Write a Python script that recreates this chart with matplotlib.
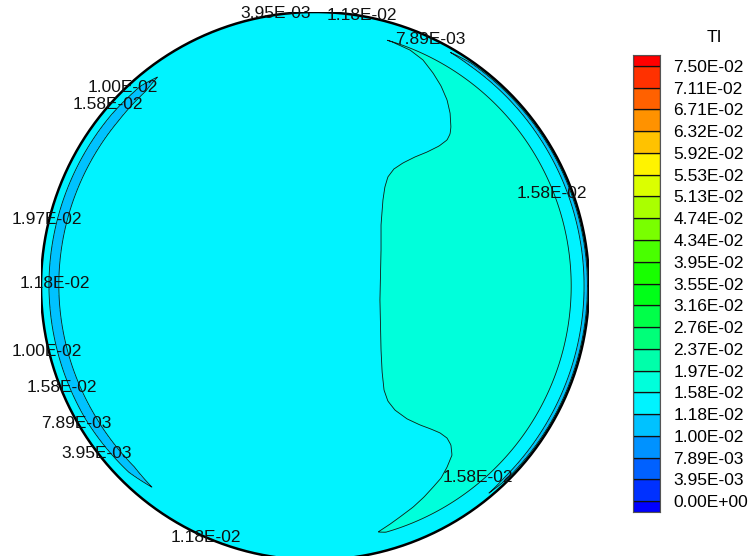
import colorsys
import numpy as np
import matplotlib
matplotlib.use("Agg")
import matplotlib.pyplot as plt

plt.rcParams["font.family"] = ["Liberation Sans", "DejaVu Sans"]
plt.rcParams["font.size"] = 12.5

# TI levels shown on the legend
ti_levels = [0.0, 3.95e-3, 7.89e-3, 1.00e-2, 1.18e-2, 1.58e-2, 1.97e-2, 2.37e-2,
             2.76e-2, 3.16e-2, 3.55e-2, 3.95e-2, 4.34e-2, 4.74e-2, 5.13e-2,
             5.53e-2, 5.92e-2, 6.32e-2, 6.71e-2, 7.11e-2, 7.50e-2]

# TI plateaus of the section
base_ti = 1.35e-2   # core
zone_ti = 1.75e-2   # high zone on the right
band_ti = 1.05e-2   # low band near the wall

# high zone: inner edge x(y) and outer radius (radius = 1)
zone_y = [-0.93, -0.898, -0.869, -0.843, -0.807, -0.770, -0.734, -0.701, -0.661,
          -0.617, -0.580, -0.555, -0.536, -0.522, -0.507, -0.485, -0.453, -0.420,
          -0.380, -0.314, -0.234, -0.051, 0.131, 0.223, 0.314, 0.361, 0.398,
          0.427, 0.449, 0.471, 0.489, 0.511, 0.533, 0.555, 0.580, 0.631, 0.679,
          0.730, 0.777, 0.825, 0.861, 0.891, 0.912, 0.93]
zone_x = [1.0, 0.230, 0.274, 0.310, 0.358, 0.398, 0.431, 0.460, 0.482,
          0.500, 0.496, 0.482, 0.456, 0.423, 0.383, 0.336, 0.292, 0.266,
          0.252, 0.245, 0.241, 0.237, 0.241, 0.241, 0.248, 0.255, 0.266,
          0.288, 0.321, 0.365, 0.409, 0.453, 0.482, 0.493, 0.496, 0.493, 0.482,
          0.460, 0.431, 0.394, 0.347, 0.281, 0.219, 1.0]
zone_r_out = 0.935

# low band along the wall: angle (deg), centre radius, half width (<0 = none)
band_phi = [0, 30, 55, 70, 120, 127, 131, 140, 180, 210, 225, 231, 240, 300, 315, 330, 360]
band_mid = [0.988, 0.988, 0.988, 0.98, 0.955, 0.955, 0.955, 0.954, 0.953, 0.950,
            0.947, 0.945, 0.95, 0.985, 0.988, 0.988, 0.988]
band_half = [0.006, 0.006, 0.005, -0.01, -0.01, 0.0, 0.013, 0.017, 0.018, 0.018,
             0.014, 0.0, -0.01, -0.01, 0.005, 0.006, 0.006]

# contour labels (pixel position in the picture)
label_text = ["3.95E-03", "1.18E-02", "7.89E-03", "1.00E-02", "1.58E-02", "1.58E-02",
              "1.97E-02", "1.18E-02", "1.00E-02", "1.58E-02", "7.89E-03", "3.95E-03",
              "1.58E-02", "1.18E-02"]
label_px = [276, 362, 430, 123, 108, 552, 47, 55, 47, 62, 76, 97, 478, 206]
label_py = [14, 16, 40, 88, 105, 193, 220, 283, 351, 387, 423, 454, 478, 537]

W, H = 751, 556
cx, cy, R = 315, 286, 274

# band colours: blue -> red
n_band = len(ti_levels) + 1
band_colors = [colorsys.hsv_to_rgb((240 * (1 - k / (n_band - 1))) / 360, 1, 1)
               for k in range(n_band)]

# field on a polar grid
r = np.concatenate([np.linspace(0, 0.9, 180, endpoint=False), np.linspace(0.9, 1.0, 400)])
phi = np.linspace(0, 2 * np.pi, 1441)
RR, PP = np.meshgrid(r, phi, indexing="ij")
X = RR * np.cos(PP)
Y = RR * np.sin(PP)

g = np.minimum(X - np.interp(Y, zone_y, zone_x), zone_r_out - RR)
T1 = np.clip(ti_levels[5] + 0.03 * g, base_ti, zone_ti)
deg = np.degrees(PP)
h = np.interp(deg, band_phi, band_half) - np.abs(RR - np.interp(deg, band_phi, band_mid))
T2 = np.clip(ti_levels[4] - 0.3 * h, band_ti, ti_levels[6])
T = np.minimum(T1, T2)

fig = plt.figure(figsize=(W / 100, H / 100), dpi=100)
ax = fig.add_axes([(cx - R) / W, (H - cy - R) / H, 2 * R / W, 2 * R / H])
ax.contourf(X, Y, T, levels=ti_levels, colors=band_colors[1:-1])
ax.contour(X, Y, T, levels=ti_levels, colors="#101818", linewidths=0.6)
ax.plot(X[-1], Y[-1], color="k", lw=1.8)
ax.set_xlim(-1, 1)
ax.set_ylim(-1, 1)
ax.axis("off")

for s, px, py in zip(label_text, label_px, label_py):
    fig.text(px / W, 1 - py / H, s, ha="center", va="center", color="#111111")

# legend bar
cax = fig.add_axes([633 / W, 44 / H, 27 / W, 457 / H])
edges = np.concatenate([[0], np.arange(len(ti_levels)) + 0.5, [len(ti_levels)]])
cax.bar(0.5, np.diff(edges), bottom=edges[:-1], width=1, color=band_colors,
        edgecolor="#111111", linewidth=0.9)
cax.set_xlim(0, 1)
cax.set_ylim(0, edges[-1])
cax.set_xticks([])
cax.yaxis.tick_right()
cax.set_yticks(np.arange(len(ti_levels)) + 0.5)
cax.set_yticklabels([f"{v:.2E}" for v in ti_levels])
cax.tick_params(axis="y", length=0, pad=9.5)
for sp in cax.spines.values():
    sp.set_color("#555555")
fig.text(714 / W, 1 - 37 / H, "TI", ha="center", va="center")

fig.savefig("out.png", dpi=100)
